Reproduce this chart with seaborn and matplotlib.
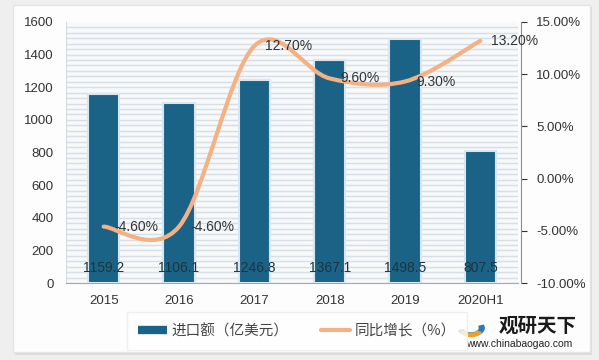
import numpy as np
import pandas as pd
import matplotlib
matplotlib.use("Agg")
import matplotlib.pyplot as plt
import seaborn as sns
from matplotlib.path import Path
from matplotlib.patches import PathPatch, Rectangle, Wedge
from matplotlib.lines import Line2D

# data
years = ["2015", "2016", "2017", "2018", "2019", "2020H1"]
imports = [1159.2, 1106.1, 1246.8, 1367.1, 1498.5, 807.5]
growth = [-4.6, -4.6, 12.7, 9.6, 9.3, 13.2]
left_ticks = [0, 200, 400, 600, 800, 1000, 1200, 1400, 1600]
right_ticks = [-10, -5, 0, 5, 10, 15]
bar_name = "进口额（亿美元）"
line_name = "同比增长（%）"

bar_color = "#1b6386"
line_color = "#f4b183"

sns.set_style("white")
plt.rcParams["font.family"] = ["Liberation Sans", "Noto Sans CJK SC", "DejaVu Sans"]

fig = plt.figure(figsize=(5.99, 3.6), dpi=100)
fig.patch.set_facecolor("#efefef")
# white card with a soft shadow
fig.patches.append(Rectangle((15 / 599, 1 - 355 / 360), 577 / 599, 348 / 360,
                             transform=fig.transFigure, facecolor="#dcdcdc",
                             edgecolor="none", zorder=-2))
fig.patches.append(Rectangle((13 / 599, 1 - 352 / 360), 577 / 599, 347 / 360,
                             transform=fig.transFigure, facecolor="#fdfdfd",
                             edgecolor="#e4e4e4", zorder=-1))

ax = fig.add_axes([66 / 599, 1 - 283 / 360, 452 / 599, 261 / 360])
ax.set_facecolor("#f7f9fb")

df = pd.DataFrame({"year": years, "imports": imports})
sns.barplot(data=df, x="year", y="imports", color=bar_color, width=0.42,
            saturation=1, edgecolor="#d8e6ef", linewidth=1.5, ax=ax, zorder=3)

# striped background
for yv in np.arange(0, 1600, 200 / 6):
    ax.axhline(yv, color="#d8dee5", lw=1.0, zorder=1)

ax.set_xlim(-0.5, len(years) - 0.5)
ax.set_ylim(0, 1600)
ax.set_yticks(left_ticks)
ax.set_xlabel("")
ax.set_ylabel("")
ax.tick_params(axis="both", length=0, labelsize=9.5, colors="#333333")
ax.tick_params(axis="y", pad=9)
ax.tick_params(axis="x", pad=9)
for s in ["top", "right"]:
    ax.spines[s].set_visible(False)
ax.spines["left"].set_color("#d5dbe2")
ax.spines["bottom"].set_color("#a8a8a8")

for i, v in enumerate(imports):
    ax.text(i, 90, f"{v:.1f}", ha="center", va="center", fontsize=10,
            color="#1d3440", zorder=5)

# secondary axis with smoothed growth line (Bezier through the points)
ax2 = ax.twinx()
ax2.set_ylim(-10, 15)
ax2.set_yticks(right_ticks)
ax2.set_yticklabels([f"{t:.2f}%" for t in right_ticks])
ax2.tick_params(axis="y", length=4, direction="out", colors="#333333",
                labelsize=9.5, pad=7)
for s in ["top", "left", "bottom"]:
    ax2.spines[s].set_visible(False)
ax2.spines["right"].set_color("#8c8c8c")
ax2.spines["right"].set_position(("outward", 2))

pts = np.column_stack([np.arange(len(growth)), growth]).astype(float)
ext = np.vstack([pts[:1], pts, pts[-1:]])
verts = [tuple(pts[0])]
codes = [Path.MOVETO]
for i in range(len(pts) - 1):
    p0, p1, p2, p3 = ext[i], ext[i + 1], ext[i + 2], ext[i + 3]
    c1 = p1 + (p2 - p0) / 6
    c2 = p2 - (p3 - p1) / 6
    verts += [tuple(c1), tuple(c2), tuple(p2)]
    codes += [Path.CURVE4] * 3
ax2.add_patch(PathPatch(Path(verts, codes), facecolor="none",
                        edgecolor=line_color, lw=3, capstyle="round", zorder=4))

for i, g in enumerate(growth):
    ax2.annotate(f"{g:.2f}%", (i, g), xytext=(8, 0), textcoords="offset points",
                 ha="left", va="center", fontsize=10, color="#333333", zorder=6)

# legend
handles = [Line2D([], [], color=bar_color, lw=6, solid_capstyle="butt"),
           Line2D([], [], color=line_color, lw=3)]
leg = fig.legend(handles, [bar_name, line_name], loc="center",
                 bbox_to_anchor=(297 / 599, 1 - 331 / 360), ncol=2,
                 frameon=True, handlelength=2.0,
                 columnspacing=2.2, handletextpad=0.3,
                 prop={"family": ["Noto Sans CJK SC", "DejaVu Sans"], "size": 10.5})
leg.get_frame().set_edgecolor("#ececec")
leg.get_frame().set_facecolor("white")
leg.get_frame().set_boxstyle("square", pad=0.4)
for t in leg.get_texts():
    t.set_color("#444444")

# watermark logo
fig.text(538 / 599, 1 - 326 / 360, "观研天下", ha="center", va="center",
         fontsize=14, fontweight="bold", color="#1a1a1a",
         family=["Noto Sans CJK SC", "DejaVu Sans"])
fig.text(519 / 599, 1 - 344 / 360, "www.chinabaogao.com", ha="center",
         va="center", fontsize=7.5, color="#222222")
fig.patches.append(Wedge((471 / 599, 1 - 328 / 360), 0.022, 200, 20, width=0.008,
                         transform=fig.transFigure, color="#2a7ab8"))
fig.patches.append(Wedge((471 / 599, 1 - 330 / 360), 0.018, 200, 340, width=0.008,
                         transform=fig.transFigure, color="#f0a020"))

fig.savefig("out.png", dpi=100, facecolor=fig.get_facecolor())
